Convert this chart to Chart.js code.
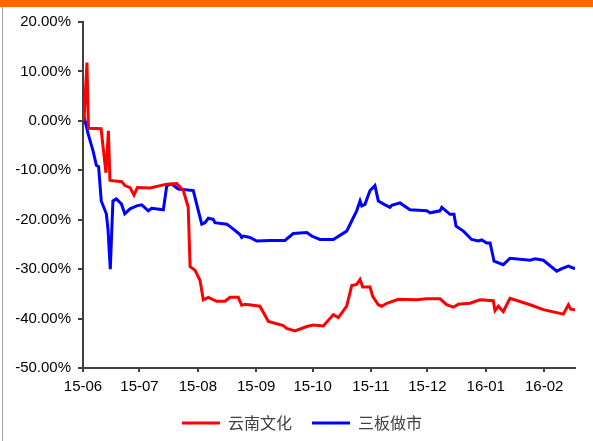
<!DOCTYPE html>
<html>
<head>
<meta charset="utf-8">
<script src="https://cdn.jsdelivr.net/npm/chart.js@4"></script>
<style>
  body { margin: 0; background: #fff; }
  #wrap { position: relative; width: 593px; height: 441px; }
  #topbar { position: absolute; left: 0; top: 0; width: 593px; height: 7px; background: #FF6600; }
  #leftline { position: absolute; left: 2px; top: 7px; width: 1px; height: 434px; background: #a0a0a0; }
  canvas { position: absolute; left: 0; top: 0; }
</style>
</head>
<body>
<div id="wrap">
  <canvas id="chart" width="593" height="441"></canvas>
  <div id="topbar"></div>
  <div id="leftline"></div>
</div>
<script>
// x = days since 2015-06-01, y = cumulative return in %
var seriesNames = ["云南文化", "三板做市"];

var redDays = [0.5, 2.1, 2.9, 9.6, 12.2, 13.5, 14.3, 15.9, 20.6, 22.3, 25.0, 27.1, 28.9, 35.6, 44.5, 49.8,
  53.3, 55.9, 56.9, 59.5, 62.2, 63.9, 66.6, 71.0, 75.5, 78.1, 82.5, 84.3, 86.1, 94.0, 98.5, 106.4,
  108.2, 112.6, 118.9, 122.4, 127.7, 133.0, 135.7, 140.1, 142.8, 145.4, 147.2, 148.6, 152.5, 153.9,
  156.9, 158.7, 161.4, 167.5, 177.3, 182.6, 189.7, 193.2, 196.8, 199.4, 205.6, 210.9, 218.0, 218.9,
  220.7, 223.3, 225.1, 226.9, 237.5, 244.6, 255.2, 257.9, 259.1, 261.4];
var redValues = [0, 11.8, -1.5, -1.6, -10.5, -2.0, -12.0, -12.1, -12.3, -13.1, -13.5, -15.0, -13.5, -13.6, -12.8, -12.7,
  -14.1, -17.5, -29.5, -30.2, -32.3, -36.2, -35.7, -36.5, -36.5, -35.7, -35.7, -37.3, -37.1, -37.5, -40.6, -41.4,
  -42.0, -42.5, -41.6, -41.3, -41.5, -39.2, -39.8, -37.5, -33.3, -33.1, -32.1, -33.6, -33.6, -35.5,
  -37.2, -37.5, -36.9, -36.1, -36.2, -36.0, -36.0, -37.2, -37.7, -37.1, -36.9, -36.2, -36.4, -38.4,
  -37.5, -38.6, -37.2, -35.9, -37.2, -38.2, -39.1, -37.2, -38.1, -38.2];

var blueDays = [0.5, 0.9, 2.7, 5.3, 7.1, 8.3, 9.7, 12.4, 13.3, 14.5, 15.9, 17.7, 20.4, 22.2, 25.0, 28.5,
  31.2, 34.7, 36.5, 42.7, 44.5, 47.1, 50.6, 58.6, 61.3, 63.1, 64.8, 66.6, 69.2, 70.1, 76.4, 79.9,
  83.4, 84.3, 85.2, 88.7, 92.3, 99.4, 107.3, 111.7, 118.9, 121.5, 125.9, 133.0, 140.1, 143.6, 145.4,
  147.2, 148.1, 149.8, 152.5, 155.1, 156.9, 160.5, 163.1, 164.0, 168.4, 173.7, 182.6, 184.4, 189.7,
  190.6, 195.0, 197.1, 198.2, 202.1, 206.5, 210.0, 211.8, 214.5, 216.3, 218.4, 223.3, 226.9, 237.5,
  240.2, 244.6, 251.7, 254.4, 257.9, 260.6, 261.4];
var blueValues = [0, 0.3, -2.6, -6.0, -9.0, -9.3, -16.2, -18.8, -22.0, -30.0, -16.2, -15.8, -16.8, -18.8, -17.8, -17.2,
  -17.0, -18.2, -17.7, -18.0, -13.1, -12.8, -13.8, -14.1, -18.2, -20.9, -20.6, -19.7, -19.9, -20.6, -20.9, -21.9,
  -23.0, -23.6, -23.3, -23.6, -24.3, -24.2, -24.2, -22.8, -22.6, -23.3, -24.0, -24.0, -22.3, -19.6, -18.2,
  -16.2, -17.2, -16.9, -14.1, -13.1, -16.2, -17.0, -17.5, -17.1, -16.6, -18.0, -18.2, -18.6, -18.2,
  -17.5, -18.9, -18.9, -21.3, -22.3, -24.0, -24.3, -24.1, -24.7, -24.7, -28.4, -29.1, -27.8, -28.2,
  -27.9, -28.2, -30.4, -29.9, -29.4, -29.8, -29.8];

var monthTicks = [0, 30, 61, 92, 122, 153, 183, 214, 245];
var monthLabels = ["15-06", "15-07", "15-08", "15-09", "15-10", "15-11", "15-12", "16-01", "16-02"];

var toPoints = function (xs, ys) {
    return xs.map((x, i) => ({x: x, y: ys[i]}));
};

var axisColor = "#404040";
var tickFont = {family: "'Liberation Sans', Arial, sans-serif", size: 15};

// the legend in the original sits a bit right of centre
var shiftLegend = {
    id: "shiftLegend",
    afterLayout: function (c) { c.legend.left += 29; }
};

var chart = new Chart(document.getElementById("chart"), {
    type: "line",
    data: {
        datasets: [{
            label: seriesNames[0],
            data: toPoints(redDays, redValues),
            borderColor: "#ff0000",
            backgroundColor: "#ff0000",
            borderWidth: 3,
            pointRadius: 0,
            tension: 0
        }, {
            label: seriesNames[1],
            data: toPoints(blueDays, blueValues),
            borderColor: "#0000ff",
            backgroundColor: "#0000ff",
            borderWidth: 3,
            pointRadius: 0,
            tension: 0
        }]
    },
    options: {
        responsive: false,
        animation: false,
        layout: {padding: {left: 0, right: 18, top: 22, bottom: 0}},
        scales: {
            x: {
                type: "linear",
                min: 0,
                max: 261.4,
                afterBuildTicks: function (scale) {
                    scale.ticks = monthTicks.map(v => ({value: v}));
                },
                // pull the plot bottom down so labels sit closer to the legend
                afterFit: function (scale) { scale.height = scale.height - 7; },
                ticks: {
                    callback: function (v) {
                        var i = monthTicks.indexOf(v);
                        return i >= 0 ? monthLabels[i] : "";
                    },
                    color: "#000",
                    font: tickFont,
                    padding: 6,
                    maxRotation: 0,
                    autoSkip: false
                },
                grid: {drawOnChartArea: false, color: axisColor, lineWidth: 2, tickLength: 4},
                border: {color: axisColor, width: 2}
            },
            y: {
                min: -50,
                max: 20,
                afterFit: function (scale) { scale.width = 83; },
                ticks: {
                    stepSize: 10,
                    callback: v => v.toFixed(2) + "%",
                    color: "#000",
                    font: tickFont,
                    padding: 7
                },
                grid: {drawOnChartArea: false, color: axisColor, lineWidth: 2, tickLength: 5},
                border: {color: axisColor, width: 2}
            }
        },
        plugins: {
            legend: {
                position: "bottom",
                labels: {
                    boxWidth: 38,
                    boxHeight: 3,
                    padding: 20,
                    color: "#404040",
                    font: {family: "'Noto Sans CJK SC', sans-serif", size: 16},
                    generateLabels: function (c) {
                        return Chart.defaults.plugins.legend.labels.generateLabels(c)
                            .map(l => Object.assign(l, {lineWidth: 0, fillStyle: l.strokeStyle}));
                    }
                }
            },
            tooltip: {enabled: false}
        }
    },
    plugins: [shiftLegend]
});
</script>
</body>
</html>
